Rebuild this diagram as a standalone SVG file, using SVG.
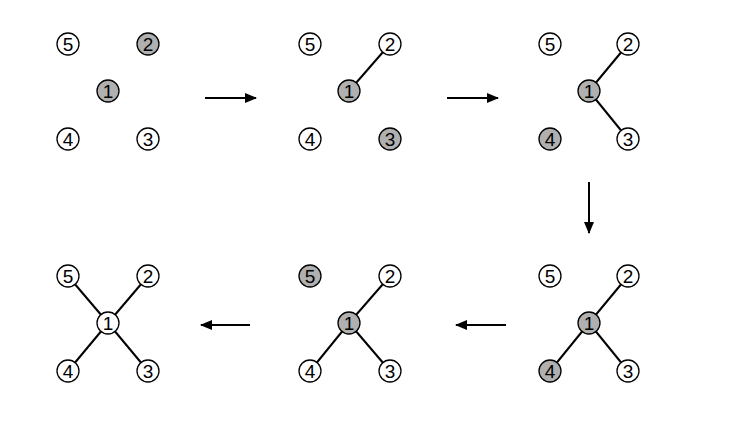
<svg xmlns="http://www.w3.org/2000/svg" width="747" height="429" viewBox="0 0 747 429">
<style>
.n circle{fill:#fff;stroke:#000;stroke-width:1.3}
.n.g circle{fill:#b0b0b0}
.n text{font-family:"Liberation Sans",Arial,sans-serif;font-size:19px;text-anchor:middle;dominant-baseline:central}
.e line{stroke:#000;stroke-width:2}
.a line{stroke:#000;stroke-width:2;marker-end:url(#ah)}
</style>
<defs><marker id="ah" markerWidth="12" markerHeight="10" refX="11" refY="5" orient="auto" markerUnits="userSpaceOnUse"><path d="M0,0 L12,5 L0,10 Z"/></marker></defs>
<g class="e">
<line x1="349" y1="91" x2="390" y2="44"/>
<line x1="589" y1="91" x2="628" y2="44"/><line x1="589" y1="91" x2="628" y2="139"/>
<line x1="589" y1="323" x2="628" y2="276"/><line x1="589" y1="323" x2="628" y2="371"/><line x1="589" y1="323" x2="550" y2="371"/>
<line x1="349" y1="323" x2="390" y2="276"/><line x1="349" y1="323" x2="390" y2="371"/><line x1="349" y1="323" x2="310" y2="371"/>
<line x1="108" y1="323" x2="148" y2="276"/><line x1="108" y1="323" x2="148" y2="371"/><line x1="108" y1="323" x2="68" y2="371"/><line x1="108" y1="323" x2="68" y2="276"/>
</g>
<g class="a">
<line x1="205" y1="98" x2="256" y2="98"/>
<line x1="447" y1="98" x2="498" y2="98"/>
<line x1="589" y1="182" x2="589" y2="233"/>
<line x1="506" y1="325" x2="456" y2="325"/>
<line x1="250" y1="325" x2="201" y2="325"/>
</g>
<g id="p1">
<g class="n"><circle cx="68" cy="44" r="11"/><text x="68" y="44">5</text></g>
<g class="n g"><circle cx="148" cy="44" r="11"/><text x="148" y="44">2</text></g>
<g class="n g"><circle cx="108" cy="91" r="11"/><text x="108" y="91">1</text></g>
<g class="n"><circle cx="68" cy="139" r="11"/><text x="68" y="139">4</text></g>
<g class="n"><circle cx="148" cy="139" r="11"/><text x="148" y="139">3</text></g>
</g>
<g id="p2">
<g class="n"><circle cx="310" cy="44" r="11"/><text x="310" y="44">5</text></g>
<g class="n"><circle cx="390" cy="44" r="11"/><text x="390" y="44">2</text></g>
<g class="n g"><circle cx="349" cy="91" r="11"/><text x="349" y="91">1</text></g>
<g class="n"><circle cx="310" cy="139" r="11"/><text x="310" y="139">4</text></g>
<g class="n g"><circle cx="390" cy="139" r="11"/><text x="390" y="139">3</text></g>
</g>
<g id="p3">
<g class="n"><circle cx="550" cy="44" r="11"/><text x="550" y="44">5</text></g>
<g class="n"><circle cx="628" cy="44" r="11"/><text x="628" y="44">2</text></g>
<g class="n g"><circle cx="589" cy="91" r="11"/><text x="589" y="91">1</text></g>
<g class="n g"><circle cx="550" cy="139" r="11"/><text x="550" y="139">4</text></g>
<g class="n"><circle cx="628" cy="139" r="11"/><text x="628" y="139">3</text></g>
</g>
<g id="p4">
<g class="n"><circle cx="550" cy="276" r="11"/><text x="550" y="276">5</text></g>
<g class="n"><circle cx="628" cy="276" r="11"/><text x="628" y="276">2</text></g>
<g class="n g"><circle cx="589" cy="323" r="11"/><text x="589" y="323">1</text></g>
<g class="n g"><circle cx="550" cy="371" r="11"/><text x="550" y="371">4</text></g>
<g class="n"><circle cx="628" cy="371" r="11"/><text x="628" y="371">3</text></g>
</g>
<g id="p5">
<g class="n g"><circle cx="310" cy="276" r="11"/><text x="310" y="276">5</text></g>
<g class="n"><circle cx="390" cy="276" r="11"/><text x="390" y="276">2</text></g>
<g class="n g"><circle cx="349" cy="323" r="11"/><text x="349" y="323">1</text></g>
<g class="n"><circle cx="310" cy="371" r="11"/><text x="310" y="371">4</text></g>
<g class="n"><circle cx="390" cy="371" r="11"/><text x="390" y="371">3</text></g>
</g>
<g id="p6">
<g class="n"><circle cx="68" cy="276" r="11"/><text x="68" y="276">5</text></g>
<g class="n"><circle cx="148" cy="276" r="11"/><text x="148" y="276">2</text></g>
<g class="n"><circle cx="108" cy="323" r="11"/><text x="108" y="323">1</text></g>
<g class="n"><circle cx="68" cy="371" r="11"/><text x="68" y="371">4</text></g>
<g class="n"><circle cx="148" cy="371" r="11"/><text x="148" y="371">3</text></g>
</g>
</svg>
